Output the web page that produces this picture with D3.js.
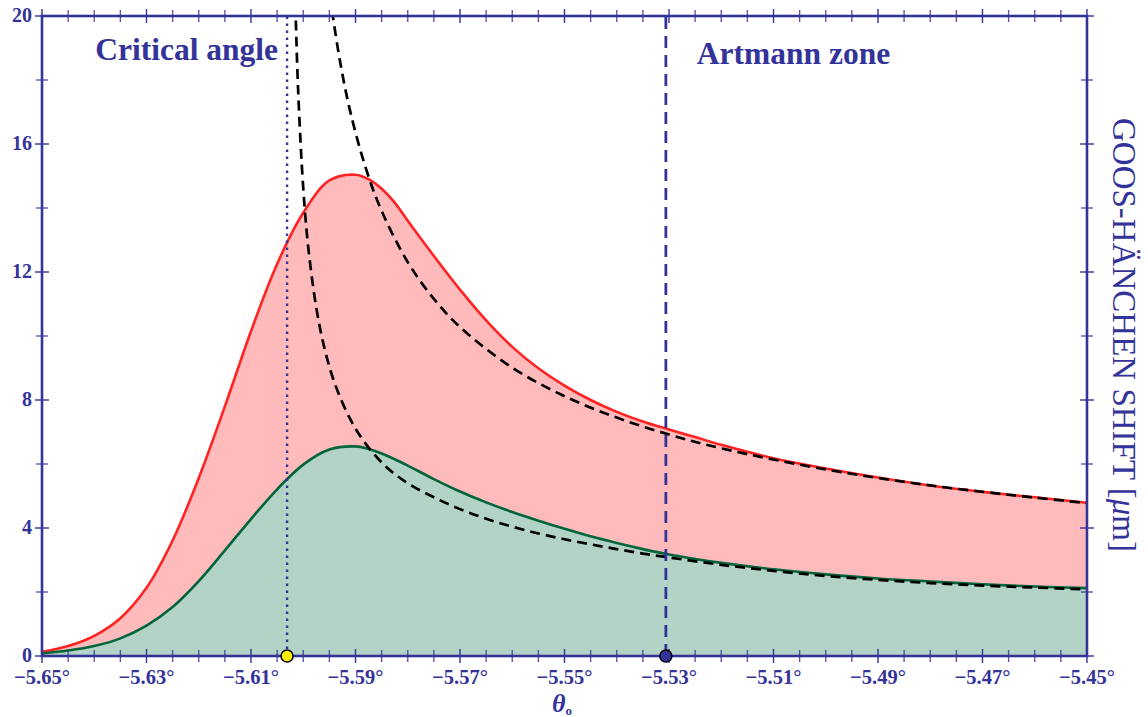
<!DOCTYPE html>
<html>
<head>
<meta charset="utf-8">
<script src="https://cdn.jsdelivr.net/npm/d3@7"></script>
<style>
body{margin:0;background:#fff;}
text{font-family:"Liberation Serif","DejaVu Serif",serif;}
</style>
</head>
<body>
<svg id="chart"></svg>
<script>
// values (theta in degrees, shift in micrometres)
var theta = [-5.65, -5.645, -5.64, -5.635, -5.63, -5.625, -5.62, -5.615, -5.61, -5.605, -5.60, -5.595, -5.59, -5.5875, -5.585, -5.5825, -5.58, -5.575, -5.57, -5.565, -5.56, -5.555, -5.55, -5.545, -5.54, -5.535, -5.53, -5.525, -5.52, -5.51, -5.50, -5.49, -5.48, -5.47, -5.46, -5.45];
var shiftRed = [0.13, 0.31, 0.63, 1.18, 2.13, 3.61, 5.56, 7.80, 10.15, 12.25, 13.85, 14.86, 15.04, 14.90, 14.60, 14.17, 13.60, 12.50, 11.45, 10.49, 9.66, 8.99, 8.45, 8.00, 7.63, 7.33, 7.08, 6.84, 6.60, 6.18, 5.86, 5.58, 5.33, 5.13, 4.96, 4.79];
var shiftGreen = [0.08, 0.17, 0.31, 0.55, 0.95, 1.53, 2.34, 3.30, 4.28, 5.21, 5.98, 6.45, 6.55, 6.47, 6.33, 6.15, 5.95, 5.53, 5.14, 4.80, 4.50, 4.23, 3.98, 3.74, 3.53, 3.34, 3.17, 3.03, 2.91, 2.71, 2.55, 2.42, 2.33, 2.24, 2.17, 2.12];

// Artmann asymptotes (black dashed)
var thetaArtUpper = [-5.5945, -5.593, -5.591, -5.588, -5.585, -5.58, -5.575, -5.57, -5.56, -5.55, -5.54, -5.53, -5.52, -5.50, -5.48, -5.46, -5.45];
var shiftArtUpper = [20.17, 18.62, 17.01, 15.23, 13.91, 12.31, 11.16, 10.28, 9.01, 8.12, 7.45, 6.92, 6.49, 5.83, 5.33, 4.95, 4.78];
var thetaArtLower = [-5.6015, -5.601, -5.600, -5.599, -5.5975, -5.596, -5.594, -5.591, -5.588, -5.584, -5.58, -5.575, -5.57, -5.565, -5.56, -5.555, -5.55, -5.545, -5.54, -5.535, -5.53, -5.52, -5.51, -5.50, -5.49, -5.48, -5.47, -5.46, -5.45];
var shiftArtLower = [20.35, 17.76, 14.62, 12.71, 10.88, 9.66, 8.53, 7.40, 6.62, 5.89, 5.40, 4.96, 4.59, 4.29, 4.04, 3.83, 3.65, 3.49, 3.34, 3.20, 3.08, 2.85, 2.66, 2.50, 2.38, 2.28, 2.20, 2.14, 2.08];

var criticalAngle = -5.6031;
var artmannAngle = -5.5306;
var xTicks = [-5.65, -5.63, -5.61, -5.59, -5.57, -5.55, -5.53, -5.51, -5.49, -5.47, -5.45];
var yTicks = [0, 4, 8, 12, 16, 20];

var axisColor = "#333399";
var svg = d3.select("#chart").attr("width", 1148).attr("height", 717);

var x = d3.scaleLinear().domain([-5.65, -5.45]).range([42, 1087]);
var y = d3.scaleLinear().domain([0, 20]).range([656, 16]);

svg.append("defs").append("clipPath").attr("id", "plotClip")
    .append("rect")
    .attr("x", x.range()[0]).attr("y", y.range()[1])
    .attr("width", x.range()[1] - x.range()[0])
    .attr("height", y.range()[0] - y.range()[1]);

var plot = svg.append("g").attr("clip-path", "url(#plotClip)");

var smooth = d3.curveCatmullRom.alpha(0.5);
var area = d3.area()
    .x(function(d){ return x(d[0]); })
    .y0(y(0))
    .y1(function(d){ return y(d[1]); })
    .curve(smooth);
var line = d3.line()
    .x(function(d){ return x(d[0]); })
    .y(function(d){ return y(d[1]); })
    .curve(smooth);

var red = d3.zip(theta, shiftRed);
var green = d3.zip(theta, shiftGreen);

plot.append("path").datum(red).attr("d", area).style("fill", "#ffbbbb");
plot.append("path").datum(green).attr("d", area).style("fill", "#b3d3c6");
plot.append("path").datum(red).attr("d", line)
    .style("fill", "none").style("stroke", "#ff2222").style("stroke-width", 2.6);
plot.append("path").datum(green).attr("d", line)
    .style("fill", "none").style("stroke", "#00643c").style("stroke-width", 2.6);

plot.selectAll(".artmann")
    .data([d3.zip(thetaArtUpper, shiftArtUpper), d3.zip(thetaArtLower, shiftArtLower)])
    .enter().append("path")
    .attr("class", "artmann")
    .attr("d", line)
    .style("fill", "none").style("stroke", "black")
    .style("stroke-width", 2.7).style("stroke-dasharray", "10,6");

// critical angle (dotted) and Artmann zone (dashed) markers
svg.append("line")
    .attr("x1", x(criticalAngle)).attr("x2", x(criticalAngle))
    .attr("y1", y(0)).attr("y2", y(20))
    .style("stroke", axisColor).style("stroke-width", 2.4)
    .style("stroke-dasharray", "2.4,4.6");
svg.append("line")
    .attr("x1", x(artmannAngle)).attr("x2", x(artmannAngle))
    .attr("y1", y(0)).attr("y2", y(20))
    .style("stroke", axisColor).style("stroke-width", 2.8)
    .style("stroke-dasharray", "12,7");

// frame
svg.append("rect")
    .attr("x", x.range()[0]).attr("y", y.range()[1])
    .attr("width", x.range()[1] - x.range()[0])
    .attr("height", y.range()[0] - y.range()[1])
    .style("fill", "none").style("stroke", axisColor).style("stroke-width", 2.6);

var xMinor = d3.range(0, 41).map(function(i){ return -5.65 + i * 0.005; });
var yMinor = d3.range(0, 11).map(function(i){ return i * 2; });

[y(0), y(20)].forEach(function(yy){
    svg.selectAll(null).data(xMinor).enter().append("line")
        .attr("x1", function(d){ return x(d); }).attr("x2", function(d){ return x(d); })
        .attr("y1", function(d, i){ return yy - (i % 4 == 0 ? 7 : 6); })
        .attr("y2", function(d, i){ return yy + (i % 4 == 0 ? 7 : 6); })
        .style("stroke", axisColor).style("stroke-width", 1.4)
        .style("opacity", function(d, i){ return i % 4 == 0 ? 1 : 0.8; });
});
[x(-5.65), x(-5.45)].forEach(function(xx){
    svg.selectAll(null).data(yMinor).enter().append("line")
        .attr("y1", function(d){ return y(d); }).attr("y2", function(d){ return y(d); })
        .attr("x1", function(d, i){ return xx - (i % 2 == 0 ? 7 : 6); })
        .attr("x2", function(d, i){ return xx + (i % 2 == 0 ? 7 : 6); })
        .style("stroke", axisColor).style("stroke-width", 1.4)
        .style("opacity", function(d, i){ return i % 2 == 0 ? 1 : 0.8; });
});

// tick labels
svg.selectAll(".xlab").data(xTicks).enter().append("text")
    .attr("class", "xlab")
    .attr("x", function(d){ return x(d); })
    .attr("y", 684)
    .attr("text-anchor", "middle")
    .style("font-size", "20.5px").style("font-weight", "bold").style("fill", axisColor)
    .text(function(d){ return "\u2212" + Math.abs(d).toFixed(2) + "\u00b0"; });

svg.selectAll(".ylab").data(yTicks).enter().append("text")
    .attr("class", "ylab")
    .attr("x", 32)
    .attr("y", function(d){ return y(d); })
    .attr("dy", "0.3em")
    .attr("text-anchor", "end")
    .style("font-size", "20px").style("font-weight", "bold").style("fill", axisColor)
    .text(function(d){ return d; });

// markers on the axis
svg.append("circle").attr("cx", x(criticalAngle)).attr("cy", y(0)).attr("r", 6)
    .style("fill", "#ffee00").style("stroke", "black").style("stroke-width", 1.5);
svg.append("circle").attr("cx", x(artmannAngle)).attr("cy", y(0)).attr("r", 6)
    .style("fill", axisColor).style("stroke", "black").style("stroke-width", 1.5);

// annotations
svg.append("text")
    .attr("x", x(criticalAngle) - 9).attr("y", 60)
    .attr("text-anchor", "end")
    .style("font-size", "31.5px").style("font-weight", "bold").style("fill", axisColor)
    .text("Critical angle");
svg.append("text")
    .attr("x", x(artmannAngle) + 31).attr("y", 64)
    .style("font-size", "31.5px").style("font-weight", "bold").style("fill", axisColor)
    .text("Artmann zone");

// axis titles
var xt = svg.append("text")
    .attr("x", 562).attr("y", 712)
    .attr("text-anchor", "middle")
    .style("font-size", "26px").style("font-weight", "bold").style("font-style", "italic")
    .style("fill", axisColor);
xt.append("tspan").text("\u03b8");
xt.append("tspan").attr("dy", 3).style("font-size", "13px").style("font-style", "normal").text("o");

var yt = svg.append("text")
    .attr("transform", "translate(1113,335) rotate(90)")
    .attr("text-anchor", "middle")
    .style("font-size", "33px").style("fill", axisColor);
yt.append("tspan").text("GOOS-H\u00c4NCHEN SHIFT [");
yt.append("tspan").style("font-style", "italic").text("\u03bc");
yt.append("tspan").text("m]");
</script>
</body>
</html>
